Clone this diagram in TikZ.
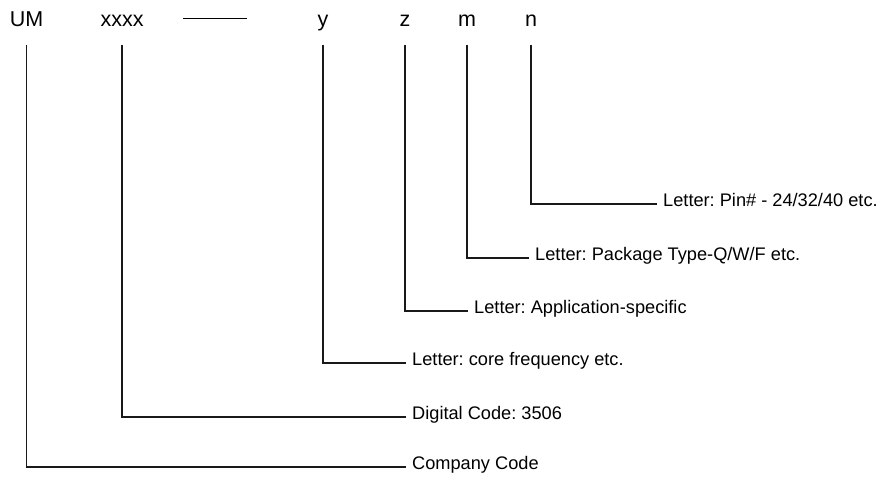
\documentclass[tikz,border=0pt]{standalone}
\usepackage{fontspec}
\setmainfont{Liberation Sans}
\frenchspacing
\usetikzlibrary{positioning}

\begin{document}
\begin{tikzpicture}[
            x=1pt, y=-1pt,
            code/.style={anchor=base, inner sep=0pt, font=\fontsize{21.5}{24}\selectfont},
            desc/.style={anchor=mid west, inner xsep=6pt, inner ysep=0pt, font=\fontsize{18.2}{21}\selectfont},
            lead/.style={draw=black!90, line width=1.2pt}
        ]
        \useasboundingbox (0,0) rectangle (885,484);

        \node (um) [code] at (26.5,27) {UM};
        \node (xxxx) [code] at (122,27) {xxxx};
        \node (dash) [code] at (215,27) {\rule[8pt]{64pt}{1.1pt}};
        \node (ly) [code] at (323,27) {y};
        \node (lz) [code] at (405,27) {z};
        \node (lm) [code] at (467,27) {m};
        \node (ln) [code] at (531,27) {n};
        \coordinate (top) at (0,45);

        \node (pin) [desc] at (657,204) {Letter: Pin\# - 24/32/40 etc.};
        \node (pkg) [desc] at (529,258) {Letter: Package Type-Q/W/F etc.};
        \node (app) [desc] at (468,311) {Letter: Application-specific};
        \node (core) [desc] at (406,363) {Letter: core frequency etc.};
        \node (digit) [desc] at (406,417) {Digital Code: 3506};
        \node (company) [desc] at (406,467) {Company Code};

        \draw [lead] (ln |- top) |- (pin.mid west);
        \draw [lead] (lm |- top) |- (pkg.mid west);
        \draw [lead] (lz |- top) |- (app.mid west);
        \draw [lead] (ly |- top) |- (core.mid west);
        \draw [lead] (xxxx |- top) |- (digit.mid west);
        \draw [lead] (um |- top) |- (company.mid west);
        \end{tikzpicture}
\end{document}
